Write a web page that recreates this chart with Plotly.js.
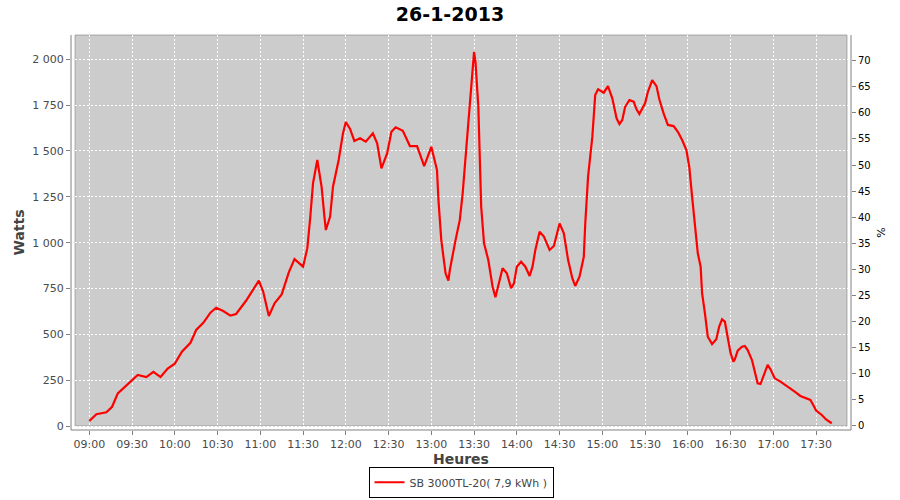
<!DOCTYPE html>
<html>
<head>
<meta charset="utf-8">
<script src="https://cdn.plot.ly/plotly-3.0.1.min.js"></script>
<style>html,body{margin:0;padding:0;background:#fff;}#chart{width:900px;height:500px;}</style>
</head>
<body>
<div id="chart"></div>
<script>
const chartDate = "2013-01-26";
const chartTitle = "26-1-2013";
const seriesName = "SB 3000TL-20( 7,9 kWh )";
const times = ["09:00","09:05","09:12","09:16","09:20","09:25","09:30","09:34","09:40","09:45","09:50","09:55",
"10:00","10:05","10:11","10:15","10:20","10:25","10:29","10:34","10:39","10:43","10:50","10:55","10:59",
"11:02","11:06","11:10","11:15","11:20","11:24","11:30","11:33","11:35","11:37","11:40","11:43","11:45","11:46","11:49","11:51","11:55","11:58",
"12:00","12:03","12:06","12:10","12:14","12:19","12:22","12:25","12:29","12:32","12:35","12:40","12:45","12:50","12:55",
"13:00","13:04","13:05","13:07","13:10","13:12","13:13","13:17","13:20","13:22","13:25","13:27","13:30","13:31","13:33","13:35","13:37","13:40","13:43","13:45","13:48","13:50","13:53","13:56","13:58",
"14:00","14:03","14:06","14:09","14:11","14:13","14:16","14:19","14:23","14:26","14:28","14:30","14:33","14:36","14:39","14:41","14:44","14:47","14:48","14:50","14:53","14:55","14:57",
"15:01","15:04","15:07","15:10","15:12","15:14","15:16","15:19","15:22","15:24","15:26","15:30","15:32","15:35","15:38","15:40","15:43","15:46","15:50","15:53","15:56","15:59",
"16:01","16:03","16:05","16:07","16:09","16:10","16:12","16:14","16:17","16:20","16:22","16:24","16:26","16:28","16:30","16:32","16:33","16:35","16:38","16:40","16:42","16:45","16:47","16:49","16:51","16:54","16:56","16:58",
"17:01","17:05","17:08","17:12","17:15","17:19","17:22","17:26","17:28","17:30","17:34","17:37","17:41"];
const watts = [27,64,75,105,178,214,247,278,267,295,267,313,
340,405,454,524,563,618,645,627,602,611,683,746,793,
733,600,669,718,838,910,869,970,1133,1324,1451,1305,1142,1069,1142,1305,1451,1596,
1658,1620,1555,1569,1551,1596,1542,1405,1487,1605,1629,1610,1527,1527,1418,
1523,1396,1233,1014,833,793,851,1014,1124,1269,1560,1796,2041,1985,1741,1196,996,905,760,702,796,860,833,751,778,
869,896,869,818,869,960,1060,1033,960,982,1042,1105,1051,905,805,764,814,923,1100,1360,1578,1805,1836,
1818,1854,1787,1678,1647,1669,1741,1778,1769,1727,1702,1760,1823,1887,1854,1782,1705,1642,1636,1605,1560,1505,
1414,1251,1105,942,869,724,615,487,447,473,542,582,569,487,397,351,364,411,432,436,414,360,296,233,229,287,333,309,
260,242,224,200,187,164,154,142,115,84,60,36,15];
const wattTicks = [0,250,500,750,1000,1250,1500,1750,2000];
const pctTicks = [0,5,10,15,20,25,30,35,40,45,50,55,60,65,70];
const xTickLabels = ["09:00","09:30","10:00","10:30","11:00","11:30","12:00","12:30","13:00","13:30","14:00","14:30","15:00","15:30","16:00","16:30","17:00","17:30"];

const xs = times.map(t => chartDate + " " + t);
const xTickVals = xTickLabels.map(t => chartDate + " " + t);

const traces = [
  {x: xs, y: watts, type: "scatter", mode: "lines", name: seriesName,
   line: {color: "#ff0000", width: 2.2}, hoverinfo: "x+y"},
  {x: [xs[0]], y: [0], yaxis: "y2", type: "scatter", mode: "markers",
   marker: {opacity: 0}, showlegend: false, hoverinfo: "skip"}
];

const L = 71, R = 851, T = 35, B = 430;
const pw = R - L, ph = B - T;
const tickFont = {family: "DejaVu Sans", size: 11, color: "#4a4a4a"};

const layout = {
  width: 900, height: 500,
  margin: {l: L, r: 900 - R, t: T, b: 500 - B, autoexpand: false},
  paper_bgcolor: "#ffffff",
  plot_bgcolor: "rgba(0,0,0,0)",
  separators: ", ",
  title: {text: chartTitle, x: 0.5, xanchor: "center", y: 0.972, yanchor: "middle",
          font: {family: "DejaVu Sans", size: 19, color: "#000000", weight: "bold"}},
  xaxis: {
    type: "date", automargin: false,
    range: [chartDate + " 08:47:10", chartDate + " 17:54:30"],
    tickvals: xTickVals, ticktext: xTickLabels,
    showgrid: true, gridcolor: "#ffffff", gridwidth: 1, griddash: "2px,2px",
    zeroline: false, showline: false,
    ticks: "outside", ticklen: 4, tickcolor: "#808080",
    tickfont: tickFont,
    title: {text: "Heures", standoff: 3, font: {family: "DejaVu Sans", size: 14, color: "#444444", weight: "bold"}}
  },
  yaxis: {
    automargin: false,
    range: [-21.8, 2132.6],
    tickvals: wattTicks, tickformat: ",d",
    showgrid: true, gridcolor: "#ffffff", gridwidth: 1, griddash: "2px,2px",
    zeroline: false, showline: false,
    ticks: "outside", ticklen: 4, tickcolor: "#808080",
    tickfont: tickFont,
    title: {text: "Watts", standoff: 4, font: {family: "DejaVu Sans", size: 14, color: "#444444", weight: "bold"}}
  },
  yaxis2: {
    automargin: false,
    overlaying: "y", side: "right",
    range: [-0.77, 74.93],
    tickvals: pctTicks,
    showgrid: false, zeroline: false, showline: false,
    ticks: "outside", ticklen: 4, tickcolor: "#808080",
    tickfont: {family: "DejaVu Sans", size: 10, color: "#000000"},
    title: {text: "%", standoff: 7, font: {family: "DejaVu Sans", size: 11, color: "#000000"}}
  },
  shapes: [
    {type: "rect", xref: "paper", yref: "paper", layer: "below",
     x0: (75 - L) / pw, x1: (847 - L) / pw, y0: (B - 426) / ph, y1: 1,
     fillcolor: "#cccccc", line: {color: "#808080", width: 0.6}},
    {type: "line", xref: "paper", yref: "paper", x0: 0, x1: 0, y0: 0, y1: 1, line: {color: "#808080", width: 1}},
    {type: "line", xref: "paper", yref: "paper", x0: 1, x1: 1, y0: 0, y1: 1, line: {color: "#808080", width: 1}},
    {type: "line", xref: "paper", yref: "paper", x0: 0, x1: 1, y0: 0, y1: 0, line: {color: "#808080", width: 1}}
  ],
  showlegend: true,
  legend: {orientation: "h", x: 0.5, xanchor: "center", y: -0.093, yanchor: "top",
           bordercolor: "#000000", borderwidth: 1, bgcolor: "#ffffff",
           itemwidth: 30, tracegroupgap: 0,
           font: {family: "DejaVu Sans", size: 11, color: "#444444"}}
};

Plotly.newPlot("chart", traces, layout, {displayModeBar: false, staticPlot: true});
</script>
</body>
</html>
